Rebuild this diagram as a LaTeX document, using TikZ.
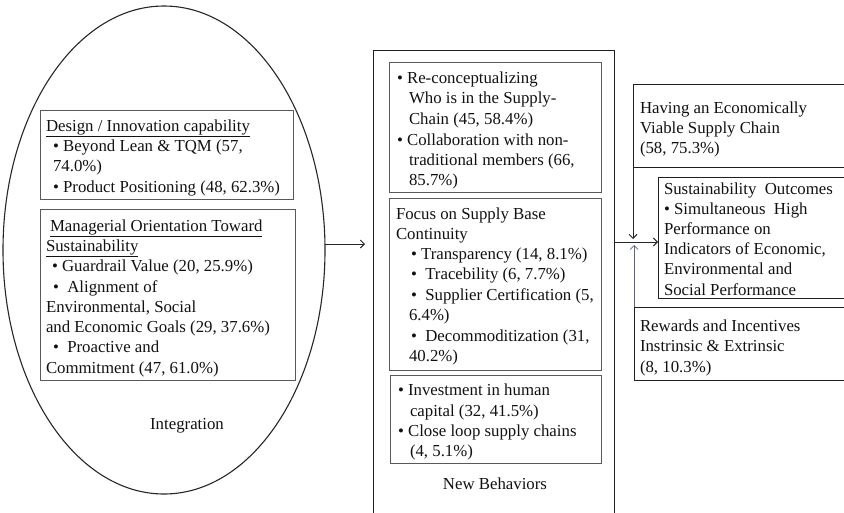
\documentclass[tikz,border=0pt]{standalone}
\usepackage{fontspec}
\setmainfont{Liberation Serif}
\usetikzlibrary{arrows.meta,shapes.geometric}
\newcommand\fs{\fontsize{16.8}{20}\selectfont}
\definecolor{txt}{HTML}{111111}
\definecolor{upc}{HTML}{5A6482}
\begin{document}
\begin{tikzpicture}[x=1pt,y=-1pt,
  lbl/.style={anchor=west,inner sep=0pt,outer sep=0pt,text height=14pt,text depth=2pt,font=\fs,text=txt},
  gbox/.style={draw=black!65,line width=0.9pt,anchor=north west,inner sep=0pt,outer sep=0pt},
  kbox/.style={draw=black!88,line width=1pt,anchor=north west,inner sep=0pt,outer sep=0pt},
  conn/.style={draw=black!85,line width=0.9pt,-{Straight Barb[length=4pt,width=8pt]}}]
\useasboundingbox (0,0) rectangle (844,512);
\clip (0,0) rectangle (844,512);
% ellipse
\node[ellipse,draw=black!85,line width=1.1pt,minimum width=322pt,minimum height=488pt,inner sep=0pt,outer sep=0pt] (e) at (164,250) {};
% left boxes
\node[gbox,minimum width=253pt,minimum height=89pt] (d1) at (40,110) {};
\node[gbox,minimum width=255pt,minimum height=171pt] (d2) at (40,209) {};
% middle
\node[kbox,minimum width=241pt,minimum height=480pt] (nb) at (373,50) {};
\node[gbox,minimum width=212pt,minimum height=130pt] (m1) at (389,62) {};
\node[gbox,minimum width=212pt,minimum height=172pt] (m2) at (389,198) {};
\node[gbox,minimum width=211pt,minimum height=88pt] (m3) at (390,375) {};
% right
\node[kbox,minimum width=240pt,minimum height=83pt] (ec) at (633,84) {};
\node[kbox,minimum width=215pt,minimum height=121pt] (so) at (658,177) {};
\node[kbox,minimum width=240pt,minimum height=73pt] (rw) at (634,307) {};
% texts
\foreach \px/\py/\t [count=\i] in {
  46/125/{\underline{Design / Innovation capability}},
  53/145/{• Beyond Lean \& TQM (57,},
  53/165/{74.0\%)},
  53/186/{• Product Positioning (48, 62.3\%)}}
  {\node[lbl] (ta\i) at (\px,\py) {\t};}
\foreach \px/\py/\t [count=\i] in {
  50/225/{\underline{Managerial Orientation Toward}},
  46/245/{\underline{Sustainability}},
  52/265/{• Guardrail Value (20, 25.9\%)},
  53/286/{•\ \ Alignment of},
  46/306/{Environmental, Social},
  46/326/{and Economic Goals (29, 37.6\%)},
  53/346/{•\ \ Proactive and},
  46/367/{Commitment (47, 61.0\%)}}
  {\node[lbl] (tb\i) at (\px,\py) {\t};}
\node[lbl,anchor=center] (integ) at (187,423) {Integration};
\foreach \px/\py/\t [count=\i] in {
  397/77/{• Re-conceptualizing},
  409/97/{Who is in the Supply-},
  409/118/{Chain (45, 58.4\%)},
  397/139/{• Collaboration with non-},
  409/159/{traditional members (66,},
  409/179/{85.7\%)}}
  {\node[lbl] (tc\i) at (\px,\py) {\t};}
\foreach \px/\py/\t [count=\i] in {
  396/213/{Focus on Supply Base},
  396/233/{Continuity},
  411/253/{• Transparency (14, 8.1\%)},
  411/273/{•\ \ Tracebility (6, 7.7\%)},
  411/294/{•\ \ Supplier Certification (5,},
  409/314/{6.4\%)},
  411/335/{•\ \ Decommoditization (31,},
  409/355/{40.2\%)}}
  {\node[lbl] (td\i) at (\px,\py) {\t};}
\foreach \px/\py/\t [count=\i] in {
  398/389/{• Investment in human},
  410/410/{capital (32, 41.5\%)},
  398/430/{• Close loop supply chains},
  410/450/{(4, 5.1\%)}}
  {\node[lbl] (te\i) at (\px,\py) {\t};}
\node[lbl,anchor=center] (newb) at (495,483) {New Behaviors};
\foreach \px/\py/\t [count=\i] in {
  640/107/{Having an Economically},
  640/127/{Viable Supply Chain},
  640/147/{(58, 75.3\%)}}
  {\node[lbl] (tf\i) at (\px,\py) {\t};}
\foreach \px/\py/\t [count=\i] in {
  664/188/{Sustainability\ \ Outcomes},
  664/208/{• Simultaneous\ \ High},
  664/228/{Performance on},
  664/248/{Indicators of Economic,},
  664/268/{Environmental and},
  664/289/{Social Performance}}
  {\node[lbl] (tg\i) at (\px,\py) {\t};}
\foreach \px/\py/\t [count=\i] in {
  640/325/{Rewards and Incentives},
  640/345/{Instrinsic \& Extrinsic},
  640/366/{(8, 10.3\%)}}
  {\node[lbl] (th\i) at (\px,\py) {\t};}
% connectors
\coordinate (y1) at (0,244);
\coordinate (y2) at (0,242);
\coordinate (y3) at (0,239);
\coordinate (y4) at (0,245);
\draw[conn,shorten >=8pt] (e.east|-y1) -- (nb.west|-y1);
\draw[conn] (nb.east|-y2) -- (so.west|-y2);
\draw[conn] (ec.south west) -- (ec.south west|-y3);
\draw[conn,draw=upc,line width=0.7pt] (rw.north west) -- (rw.north west|-y4);
\end{tikzpicture}
\end{document}
